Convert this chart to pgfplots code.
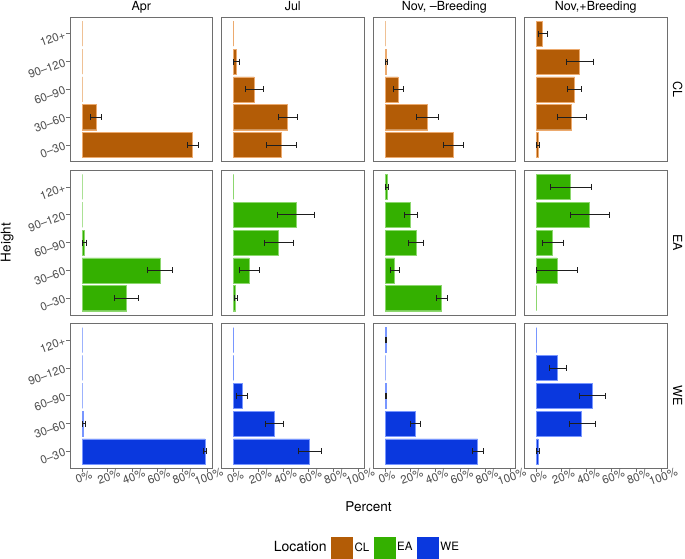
\documentclass[border=0pt]{standalone}
\usepackage{fontspec}
\setmainfont{TeX Gyre Heros}
\usepackage{pgfplots}
\pgfplotsset{compat=1.18}
\definecolor{CLfill}{RGB}{179,92,6}
\definecolor{CLline}{RGB}{236,170,110}
\definecolor{EAfill}{RGB}{52,176,0}
\definecolor{EAline}{RGB}{140,215,110}
\definecolor{WEfill}{RGB}{10,56,222}
\definecolor{WEline}{RGB}{120,150,255}
\definecolor{border}{RGB}{110,110,110}
\definecolor{ticklab}{RGB}{77,77,77}
\definecolor{ebcol}{RGB}{30,30,30}

\pgfplotsset{
 panel/.style={scale only axis, width=142.5pt, height=144.7pt, anchor=north west,
   xmin=-9.6, xmax=104.4, ymin=0.4, ymax=5.6,
   axis line style={draw=border, line width=0.8pt},
   xtick=\empty, ytick=\empty, tick align=outside, major tick length=3.5pt,
   tick style={draw=border, line width=0.8pt},
   ticklabel style={font=\fontsize{11.5}{13}\selectfont, text=ticklab},
   every axis title shift=0pt,
   title style={font=\fontsize{12.5}{14}\selectfont, at={(0.5,1)}, anchor=base, yshift=7pt, inner sep=0pt},
 },
 bottomrow/.style={xtick={0,20,40,60,80,100}, xticklabels={0\%,20\%,40\%,60\%,80\%,100\%}, xtick pos=left, xticklabel style={rotate=20, anchor=north, inner sep=1pt}},
 leftcol/.style={ytick={1,2,3,4,5}, yticklabels={0–30,30–60,60–90,90–120,120+}, ytick pos=left, yticklabel style={rotate=20, anchor=east, inner sep=1.5pt}},
}

\newcommand{\panel}[7]{%
\begin{axis}[panel, at={(#1pt,-#2pt)}, #3]
\addplot[forget plot, xbar, bar width=0.9, fill=#4fill, draw=#4line, line width=0.4pt] coordinates {#5};
\addplot[forget plot, draw=none, mark=none, error bars/.cd, x dir=both, x explicit, error mark=|,
  error bar style={draw=ebcol, line width=0.6pt}, error mark options={draw=ebcol, line width=0.6pt, mark size=3pt}] coordinates {#6};
#7
\end{axis}}

\begin{document}
\begin{tikzpicture}
\useasboundingbox (0,0) rectangle (685pt,-558pt);
% ---------- CL row ----------
\panel{70}{17}{title=Apr, leftcol}{CL}
 {(88.5,1) (11.2,2) (0,3) (0,4) (0,5)}
 {(88.5,1) += (4.5,0) -= (4,0) (11.2,2) += (4,0) -= (4.3,0)}{}
\panel{221.5}{17}{title=Jul}{CL}
 {(38.1,1) (43.2,2) (16.5,3) (2.4,4) (0,5)}
 {(38.1,1) += (12,0) -= (11.7,0) (43.2,2) += (7.8,0) -= (7.2,0) (16.5,3) += (7,0) -= (6.9,0) (2.4,4) += (2.1,0) -= (2.4,0)}{}
\panel{373}{17}{title={Nov, –Breeding}}{CL}
 {(54.7,1) (34.1,2) (10.4,3) (1.0,4) (0,5)}
 {(54.7,1) += (8.2,0) -= (7.7,0) (34.1,2) += (8.9,0) -= (8.8,0) (10.4,3) += (4.3,0) -= (4,0) (1.0,4) += (0.7,0) -= (0.7,0)}{}
\panel{524.5}{17}{title={Nov,+Breeding}}{CL}
 {(1.1,1) (27.7,2) (30.4,3) (34.1,4) (4.8,5)}
 {(1.1,1) += (1,0) -= (1.1,0) (27.7,2) += (11.8,0) -= (11.2,0) (30.4,3) += (5.6,0) -= (5.6,0) (34.1,4) += (11.5,0) -= (10.4,0) (4.8,5) += (4,0) -= (3.5,0)}{}
% ---------- EA row ----------
\panel{70}{170.2}{leftcol}{EA}
 {(35.2,1) (62.4,2) (2.1,3) (0,4) (0,5)}
 {(35.2,1) += (9.8,0) -= (9.6,0) (62.4,2) += (9.9,0) -= (9.9,0) (2.1,3) += (1.4,0) -= (1.6,0)}{}
\panel{221.5}{170.2}{}{EA}
 {(1.3,1) (12.5,2) (36,3) (50.1,4) (0,5)}
 {(1.3,1) += (1.4,0) -= (1,0) (12.5,2) += (7.8,0) -= (7.7,0) (36,3) += (11.5,0) -= (11,0) (50.1,4) += (14.7,0) -= (14.9,0)}{}
\panel{373}{170.2}{}{EA}
 {(45.3,1) (7.7,2) (24.8,3) (20.5,4) (1.6,5)}
 {(45.3,1) += (4.3,0) -= (4,0) (7.7,2) += (3.8,0) -= (3.2,0) (24.8,3) += (6.2,0) -= (5.8,0) (20.5,4) += (5.1,0) -= (4.8,0) (1.6,5) += (1.4,0) -= (1.1,0)}{}
\panel{524.5}{170.2}{}{EA}
 {(0,1) (16.3,2) (12.8,3) (42.4,4) (26.9,5)}
 {(16.3,2) += (16.7,0) -= (16.3,0) (12.8,3) += (8.5,0) -= (8.5,0) (42.4,4) += (15.7,0) -= (15.2,0) (26.9,5) += (16.8,0) -= (16.2,0)}{}
% ---------- WE row ----------
\panel{70}{323.4}{leftcol, bottomrow,
   legend style={at={(2.08,-0.549)}, anchor=center, draw=none, fill=none, inner sep=0pt,
     legend columns=-1, font=\fontsize{11.5}{13}\selectfont,
     /tikz/every even column/.style={column sep=2.5pt}, /tikz/every odd column/.style={column sep=0pt}}}{WE}
 {(98.4,1) (1.3,2) (0,3) (0,4) (0,5)}
 {(98.4,1) += (1.1,0) -= (1.1,0) (1.3,2) += (1.2,0) -= (1.1,0)}
 {\addlegendimage{empty legend}\addlegendentry{\fontsize{14}{16}\selectfont Location}
  \addlegendimage{legend image code/.code={\fill[CLfill] (0pt,-10.5pt) rectangle (21pt,10.5pt);}}\addlegendentry{CL}
  \addlegendimage{legend image code/.code={\fill[EAfill] (0pt,-10.5pt) rectangle (21pt,10.5pt);}}\addlegendentry{EA}
  \addlegendimage{legend image code/.code={\fill[WEfill] (0pt,-10.5pt) rectangle (21pt,10.5pt);}}\addlegendentry{WE}}
\panel{221.5}{323.4}{bottomrow}{WE}
 {(60.8,1) (32.3,2) (6.7,3) (0,4) (0,5)}
 {(60.8,1) += (9.1,0) -= (8.8,0) (32.3,2) += (7.2,0) -= (6.7,0) (6.7,3) += (4.2,0) -= (4.3,0)}{}
\panel{373}{323.4}{bottomrow}{WE}
 {(74.1,1) (24.5,2) (0.8,3) (0,4) (0.8,5)}
 {(74.1,1) += (4.3,0) -= (4.2,0) (24.5,2) += (4,0) -= (4,0) (0.8,3) += (0.6,0) -= (0.5,0) (0.8,5) += (0.6,0) -= (0.5,0)}{}
\panel{524.5}{323.4}{bottomrow}{WE}
 {(1.1,1) (36,2) (44.8,3) (16.8,4) (0,5)}
 {(1.1,1) += (1.2,0) -= (1,0) (36,2) += (10.7,0) -= (9.9,0) (44.8,3) += (10.4,0) -= (10.4,0) (16.8,4) += (6.9,0) -= (6.4,0)}{}
% ---------- strip labels and axis titles ----------
\node[rotate=-90, anchor=base, font=\fontsize{12.5}{14}\selectfont] at (673pt,-89.35pt) {CL};
\node[rotate=-90, anchor=base, font=\fontsize{12.5}{14}\selectfont] at (673pt,-242.55pt) {EA};
\node[rotate=-90, anchor=base, font=\fontsize{12.5}{14}\selectfont] at (673pt,-395.75pt) {WE};
\node[rotate=90, anchor=base, font=\fontsize{13.5}{15}\selectfont] at (10.5pt,-242.5pt) {Height};
\node[anchor=base, font=\fontsize{13.5}{15}\selectfont] at (368.5pt,-511.5pt) {Percent};
\end{tikzpicture}
\end{document}
